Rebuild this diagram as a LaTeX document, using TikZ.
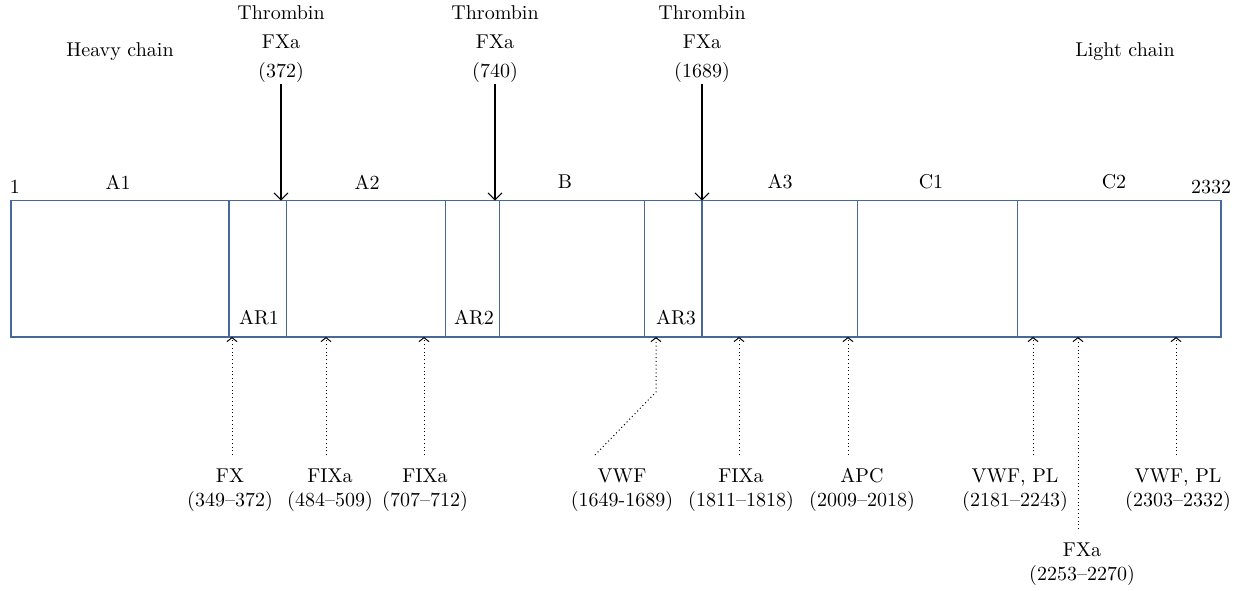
\documentclass[tikz,border=0pt]{standalone}
\usetikzlibrary{arrows.meta}

\definecolor{boxblue}{RGB}{72,104,152}

\tikzset{
    domainbox/.style={draw=boxblue, line width=0.75pt},
    cut/.style={-{Straight Barb[length=3.5pt,width=7pt]}, line width=0.55pt},
    site/.style={-{Straight Barb[length=2pt,width=5pt]}, line width=0.5pt, dash pattern=on 0.5pt off 1.4pt},
    toplbl/.style={align=center, inner sep=1pt, font=\fontsize{10}{14.3}\selectfont},
    botlbl/.style={align=center, inner sep=1pt, font=\fontsize{10}{12}\selectfont},
    seglbl/.style={inner sep=1pt, font=\fontsize{10}{12}\selectfont},
}

\begin{document}
\begin{tikzpicture}[x=0.5pt, y=-0.5pt]

    \useasboundingbox (0,0) rectangle (1242,590);

    \draw[domainbox] (11,200.7) rectangle (1221,337); % whole factor VIII chain
    \foreach \xd in {229,286.3,445.3,499.7,644.3,702,857.7,1017.3}
        \draw[domainbox] (\xd,200.7) -- (\xd,337); % domain borders

    % domain names above the box
    \node[seglbl] (one) at (15,187) {1};
    \node[seglbl] (end) at (1211,187) {2332};
    \node[seglbl] (a1) at (118,182) {A1};
    \node[seglbl] (a2) at (367,182) {A2};
    \node[seglbl] (b) at (565,182) {B};
    \node[seglbl] (a3) at (780,182) {A3};
    \node[seglbl] (c1) at (931,182) {C1};
    \node[seglbl] (c2) at (1114,182) {C2};

    % acidic regions inside the box
    \node[seglbl] (ar1) at (259,318) {AR1};
    \node[seglbl] (ar2) at (474,318) {AR2};
    \node[seglbl] (ar3) at (676,318) {AR3};

    \node[seglbl] (heavy) at (120,52) {Heavy chain};
    \node[seglbl] (light) at (1125,52) {Light chain};

    % cleavage sites
    \coordinate (k1) at (281,200.7);
    \coordinate (k2) at (495,200.7);
    \coordinate (k3) at (702,200.7);
    \node[toplbl] (t1) at (281,44) {Thrombin\\FXa\\(372)};
    \node[toplbl] (t2) at (495,44) {Thrombin\\FXa\\(740)};
    \node[toplbl] (t3) at (702,44) {Thrombin\\FXa\\(1689)};
    \draw[cut] (t1.south -| k1) -- (k1);
    \draw[cut] (t2.south -| k2) -- (k2);
    \draw[cut] (t3.south -| k3) -- (k3);

    % binding sites below the box
    \coordinate (s1) at (232,337);
    \coordinate (s2) at (326,337);
    \coordinate (s3) at (424,337);
    \coordinate (s4) at (656,337);
    \coordinate (s5) at (739,337);
    \coordinate (s6) at (848,337);
    \coordinate (s7) at (1033,337);
    \coordinate (s8) at (1078,337);
    \coordinate (s9) at (1176,337);

    \node[botlbl] (b1) at (230,490) {FX\\(349--372)};
    \node[botlbl] (b2) at (330,490) {FIXa\\(484--509)};
    \node[botlbl] (b3) at (425,490) {FIXa\\(707--712)};
    \node[botlbl] (b4) at (622,490) {VWF\\(1649-1689)};
    \node[botlbl] (b5) at (741,490) {FIXa\\(1811--1818)};
    \node[botlbl] (b6) at (862,490) {APC\\(2009--2018)};
    \node[botlbl] (b7) at (1015,490) {VWF, PL\\(2181--2243)};
    \node[botlbl] (b8) at (1082,564) {FXa\\(2253--2270)};
    \node[botlbl] (b9) at (1178,490) {VWF, PL\\(2303--2332)};

    \coordinate (vbend) at (656,392);
    \coordinate (vfoot) at (595,455);

    \draw[site, shorten <=5.5pt] (b1.north -| s1) -- (s1);
    \draw[site, shorten <=5.5pt] (b2.north -| s2) -- (s2);
    \draw[site, shorten <=5.5pt] (b3.north -| s3) -- (s3);
    \draw[site] (vfoot) -- (vbend) -- (s4);
    \draw[site, shorten <=5.5pt] (b5.north -| s5) -- (s5);
    \draw[site, shorten <=5.5pt] (b6.north -| s6) -- (s6);
    \draw[site, shorten <=5.5pt] (b7.north -| s7) -- (s7);
    \draw[site, shorten <=5.5pt] (b8.north -| s8) -- (s8);
    \draw[site, shorten <=5.5pt] (b9.north -| s9) -- (s9);

\end{tikzpicture}
\end{document}
